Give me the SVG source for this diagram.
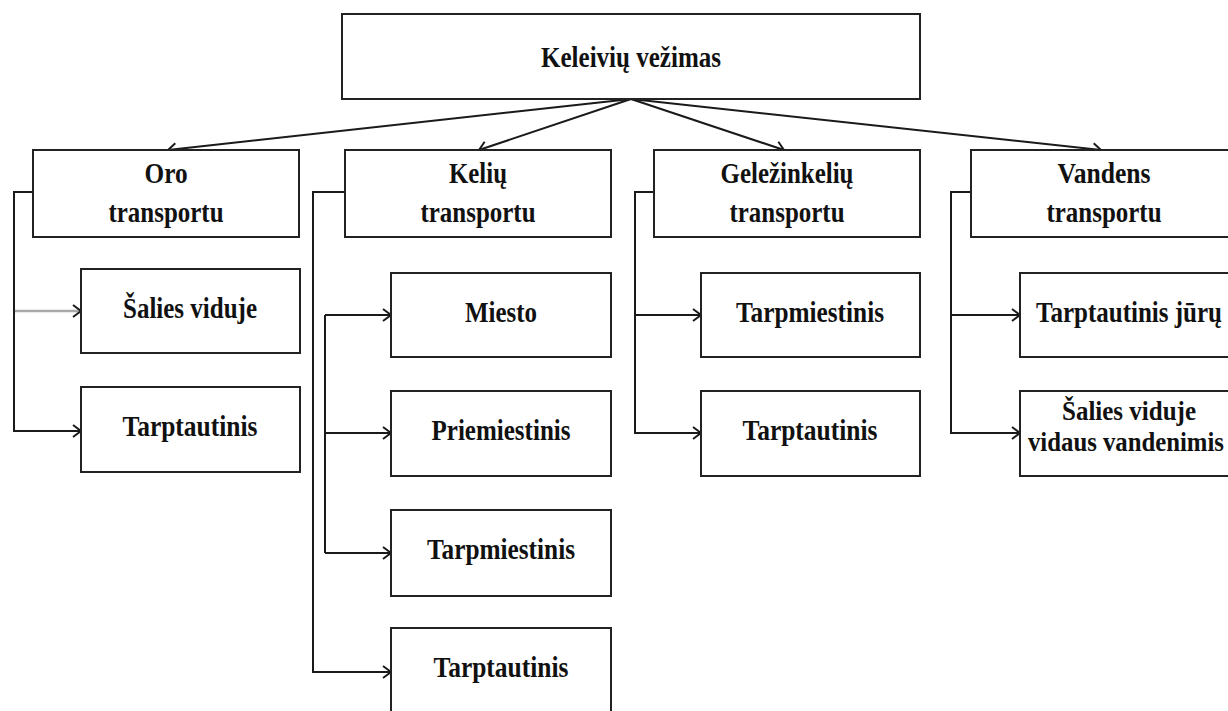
<svg xmlns="http://www.w3.org/2000/svg" width="1228" height="711" viewBox="0 0 1228 711">
  <style>
    .box { fill: #ffffff; stroke: #222222; stroke-width: 2; }
    .lbl { font-family: "Liberation Serif", "Times New Roman", serif; font-weight: bold; font-size: 30px; fill: #111111; text-anchor: middle; }
    .lbl-sm { font-size: 28px; }
    .wire { fill: none; stroke: #1a1a1a; stroke-width: 2; marker-end: url(#arrow); }
    .wire-light { fill: none; stroke: #a8a8a8; stroke-width: 2.5; marker-end: url(#arrow); }
  </style>
  <defs>
    <marker id="arrow" markerUnits="userSpaceOnUse" markerWidth="12" markerHeight="14" refX="9" refY="7" orient="auto">
      <path d="M1,1 L9,7 L1,13" fill="none" stroke="#1a1a1a" stroke-width="2"/>
    </marker>
  </defs>

  <!-- connectors -->
  <g id="connectors">
    <!-- root to transport modes -->
    <path class="wire" d="M631,99 L168,150"/>
    <path class="wire" d="M631,99 L479,150"/>
    <path class="wire" d="M631,99 L784,150"/>
    <path class="wire" d="M631,99 L1101,150"/>

    <!-- air -->
    <path class="wire-light" d="M14,311 H81"/>
    <path class="wire" d="M33,192 H14 V431 H81"/>

    <!-- road -->
    <path class="wire" d="M345,192 H313 V672 H391"/>
    <path fill="none" stroke="#1a1a1a" stroke-width="2" d="M325,315 V553"/>
    <path class="wire" d="M325,315 H391"/>
    <path class="wire" d="M325,433 H391"/>
    <path class="wire" d="M325,553 H391"/>

    <!-- rail -->
    <path class="wire" d="M654,192 H635 V433 H701"/>
    <path class="wire" d="M635,315 H701"/>

    <!-- water -->
    <path class="wire" d="M971,192 H951 V433 H1020"/>
    <path class="wire" d="M951,315 H1020"/>
  </g>

  <!-- root -->
  <g id="root">
    <rect class="box" x="342" y="14" width="578" height="85"/>
    <text class="lbl" x="631" y="67" textLength="180" lengthAdjust="spacingAndGlyphs">Keleivių vežimas</text>
  </g>

  <!-- transport modes -->
  <g id="air">
    <rect class="box" x="33" y="150" width="266" height="87"/>
    <text class="lbl" x="166" y="183" textLength="43" lengthAdjust="spacingAndGlyphs">Oro</text>
    <text class="lbl" x="166" y="222" textLength="115" lengthAdjust="spacingAndGlyphs">transportu</text>
  </g>
  <g id="road">
    <rect class="box" x="345" y="150" width="266" height="87"/>
    <text class="lbl" x="478" y="183" textLength="58" lengthAdjust="spacingAndGlyphs">Kelių</text>
    <text class="lbl" x="478" y="222" textLength="115" lengthAdjust="spacingAndGlyphs">transportu</text>
  </g>
  <g id="rail">
    <rect class="box" x="654" y="150" width="266" height="87"/>
    <text class="lbl" x="787" y="183" textLength="133" lengthAdjust="spacingAndGlyphs">Geležinkelių</text>
    <text class="lbl" x="787" y="222" textLength="115" lengthAdjust="spacingAndGlyphs">transportu</text>
  </g>
  <g id="water">
    <rect class="box" x="971" y="150" width="266" height="87"/>
    <text class="lbl" x="1104" y="183" textLength="93" lengthAdjust="spacingAndGlyphs">Vandens</text>
    <text class="lbl" x="1104" y="222" textLength="115" lengthAdjust="spacingAndGlyphs">transportu</text>
  </g>

  <!-- air subtypes -->
  <g id="air-domestic">
    <rect class="box" x="81" y="269" width="219" height="84"/>
    <text class="lbl" x="190" y="318" textLength="134" lengthAdjust="spacingAndGlyphs">Šalies viduje</text>
  </g>
  <g id="air-international">
    <rect class="box" x="81" y="387" width="219" height="85"/>
    <text class="lbl" x="190" y="436" textLength="135" lengthAdjust="spacingAndGlyphs">Tarptautinis</text>
  </g>

  <!-- road subtypes -->
  <g id="road-city">
    <rect class="box" x="391" y="273" width="220" height="84"/>
    <text class="lbl" x="501" y="322" textLength="72" lengthAdjust="spacingAndGlyphs">Miesto</text>
  </g>
  <g id="road-suburban">
    <rect class="box" x="391" y="391" width="220" height="85"/>
    <text class="lbl" x="501" y="440" textLength="139" lengthAdjust="spacingAndGlyphs">Priemiestinis</text>
  </g>
  <g id="road-intercity">
    <rect class="box" x="391" y="510" width="220" height="86"/>
    <text class="lbl" x="501" y="559" textLength="148" lengthAdjust="spacingAndGlyphs">Tarpmiestinis</text>
  </g>
  <g id="road-international">
    <rect class="box" x="391" y="628" width="220" height="90"/>
    <text class="lbl" x="501" y="677" textLength="135" lengthAdjust="spacingAndGlyphs">Tarptautinis</text>
  </g>

  <!-- rail subtypes -->
  <g id="rail-intercity">
    <rect class="box" x="701" y="273" width="219" height="84"/>
    <text class="lbl" x="810" y="322" textLength="148" lengthAdjust="spacingAndGlyphs">Tarpmiestinis</text>
  </g>
  <g id="rail-international">
    <rect class="box" x="701" y="391" width="219" height="85"/>
    <text class="lbl" x="810" y="440" textLength="135" lengthAdjust="spacingAndGlyphs">Tarptautinis</text>
  </g>

  <!-- water subtypes -->
  <g id="water-sea">
    <rect class="box" x="1020" y="273" width="219" height="84"/>
    <text class="lbl" x="1129" y="322" textLength="186" lengthAdjust="spacingAndGlyphs">Tarptautinis jūrų</text>
  </g>
  <g id="water-inland">
    <rect class="box" x="1020" y="391" width="219" height="85"/>
    <text class="lbl lbl-sm" x="1129" y="420" textLength="134" lengthAdjust="spacingAndGlyphs">Šalies viduje</text>
    <text class="lbl lbl-sm" x="1126" y="451" textLength="196" lengthAdjust="spacingAndGlyphs">vidaus vandenimis</text>
  </g>
</svg>
